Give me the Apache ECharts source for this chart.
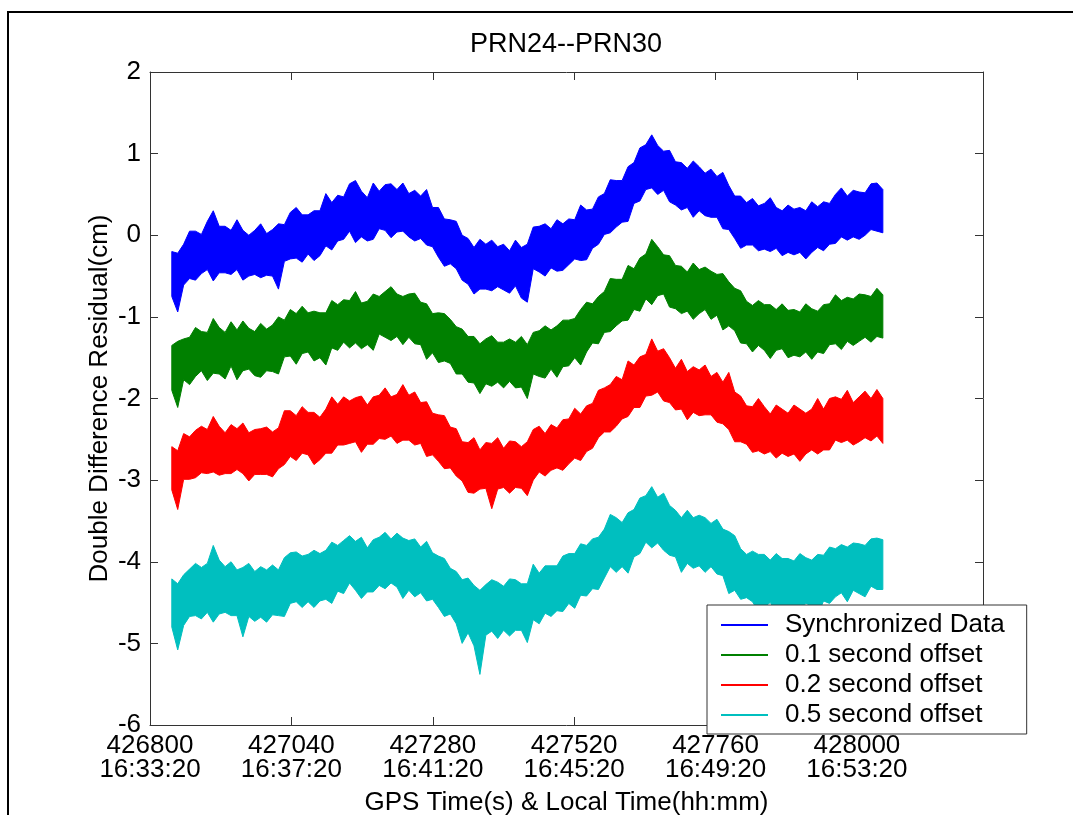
<!DOCTYPE html>
<html>
<head>
<meta charset="utf-8">
<title>PRN24--PRN30</title>
<script src="https://cdn.jsdelivr.net/npm/echarts@6/dist/echarts.min.js"></script>
<style>
  html, body { margin: 0; padding: 0; background: #fff; }
  #chart { width: 1073px; height: 815px; }
</style>
</head>
<body>
<div id="chart"></div>
<script>
// GPS time (s) of the first and last residual sample
const T_START = 426837;
const T_END = 428044;

// Bottom axis ticks: GPS seconds and the matching local clock time
const xTickValues = [426800, 427040, 427280, 427520, 427760, 428000];
const xTickTimes = ['16:33:20', '16:37:20', '16:41:20', '16:45:20', '16:49:20', '16:53:20'];

const seriesNames = ['Synchronized Data', '0.1 second offset', '0.2 second offset', '0.5 second offset'];
const seriesColors = ['#0000ff', '#008000', '#ff0000', '#00bfbf'];

// Upper and lower extent of each residual trace (cm), one pair per 10 s step
const syncHi = [-0.20,-0.22,-0.11,0.05,0.05,0.01,0.17,0.30,0.11,0.11,
  0.06,0.19,0.06,0.00,0.06,0.14,0.02,0.07,0.14,0.13,
  0.28,0.34,0.25,0.25,0.30,0.30,0.51,0.40,0.49,0.47,
  0.63,0.67,0.54,0.46,0.64,0.54,0.62,0.63,0.56,0.64,
  0.51,0.55,0.48,0.56,0.34,0.34,0.20,0.19,0.17,0.00,
  -0.04,-0.15,-0.05,-0.11,-0.06,-0.14,-0.11,-0.19,-0.06,-0.15,
  -0.11,0.10,0.11,0.14,0.08,0.19,0.14,0.20,0.19,0.37,
  0.31,0.32,0.47,0.51,0.68,0.67,0.67,0.84,0.89,1.07,
  1.11,1.23,1.10,1.03,1.04,0.90,0.89,0.82,0.91,0.84,
  0.76,0.81,0.72,0.77,0.61,0.48,0.48,0.40,0.45,0.36,
  0.39,0.46,0.34,0.30,0.37,0.32,0.34,0.30,0.41,0.35,
  0.41,0.39,0.50,0.58,0.48,0.55,0.53,0.52,0.63,0.64,
  0.56];
const syncLo = [-0.75,-0.94,-0.61,-0.53,-0.55,-0.47,-0.42,-0.56,-0.46,-0.46,
  -0.48,-0.42,-0.55,-0.50,-0.48,-0.52,-0.49,-0.50,-0.66,-0.32,
  -0.29,-0.28,-0.33,-0.23,-0.31,-0.25,-0.13,-0.18,-0.07,-0.05,
  0.05,-0.09,-0.02,-0.07,-0.05,0.08,0.06,-0.03,0.04,0.05,
  -0.02,-0.07,-0.04,-0.12,-0.14,-0.27,-0.38,-0.35,-0.41,-0.55,
  -0.60,-0.72,-0.66,-0.66,-0.68,-0.63,-0.67,-0.71,-0.62,-0.77,
  -0.82,-0.41,-0.45,-0.50,-0.40,-0.44,-0.43,-0.36,-0.29,-0.31,
  -0.30,-0.16,-0.11,0.01,0.03,0.10,0.16,0.17,0.39,0.42,
  0.56,0.58,0.50,0.55,0.41,0.37,0.31,0.34,0.22,0.30,
  0.24,0.22,0.22,0.08,0.07,-0.04,-0.16,-0.12,-0.12,-0.19,
  -0.17,-0.20,-0.16,-0.25,-0.21,-0.24,-0.21,-0.29,-0.21,-0.15,
  -0.19,-0.11,-0.10,-0.02,-0.06,-0.02,-0.05,0.00,0.07,0.05,
  0.03];

const off1Hi = [-1.35,-1.30,-1.27,-1.25,-1.13,-1.18,-1.19,-1.02,-1.13,-1.19,
  -1.06,-1.16,-1.05,-1.14,-1.18,-1.08,-1.15,-1.10,-1.00,-1.04,
  -0.91,-0.96,-0.87,-0.95,-0.93,-0.95,-0.95,-0.80,-0.85,-0.79,
  -0.80,-0.69,-0.83,-0.81,-0.72,-0.75,-0.69,-0.63,-0.72,-0.75,
  -0.72,-0.71,-0.82,-0.84,-0.96,-0.95,-0.96,-1.03,-1.12,-1.15,
  -1.24,-1.24,-1.33,-1.27,-1.23,-1.31,-1.31,-1.27,-1.31,-1.24,
  -1.34,-1.19,-1.17,-1.11,-1.16,-1.11,-1.04,-1.04,-1.02,-0.91,
  -0.82,-0.84,-0.75,-0.69,-0.53,-0.54,-0.54,-0.37,-0.41,-0.28,
  -0.23,-0.05,-0.14,-0.24,-0.25,-0.37,-0.38,-0.45,-0.34,-0.42,
  -0.39,-0.44,-0.48,-0.47,-0.57,-0.65,-0.68,-0.81,-0.86,-0.80,
  -0.85,-0.85,-0.91,-0.84,-0.92,-0.91,-0.94,-0.84,-0.90,-0.93,
  -0.85,-0.84,-0.73,-0.80,-0.76,-0.78,-0.72,-0.73,-0.75,-0.65,
  -0.73];
const off1Lo = [-1.90,-2.11,-1.77,-1.83,-1.73,-1.66,-1.78,-1.69,-1.70,-1.76,
  -1.60,-1.77,-1.66,-1.64,-1.72,-1.74,-1.66,-1.67,-1.70,-1.49,
  -1.48,-1.58,-1.45,-1.43,-1.54,-1.50,-1.59,-1.38,-1.41,-1.31,
  -1.38,-1.32,-1.39,-1.34,-1.41,-1.21,-1.25,-1.29,-1.24,-1.34,
  -1.25,-1.33,-1.34,-1.52,-1.44,-1.56,-1.54,-1.57,-1.70,-1.70,
  -1.80,-1.81,-1.94,-1.82,-1.85,-1.80,-1.87,-1.79,-1.87,-1.86,
  -2.00,-1.70,-1.73,-1.75,-1.64,-1.74,-1.61,-1.60,-1.50,-1.59,
  -1.43,-1.32,-1.33,-1.19,-1.18,-1.11,-1.05,-1.04,-0.91,-0.93,
  -0.78,-0.85,-0.74,-0.72,-0.88,-0.90,-0.96,-0.93,-1.03,-0.96,
  -0.91,-1.03,-0.98,-1.16,-1.11,-1.17,-1.32,-1.33,-1.43,-1.35,
  -1.41,-1.51,-1.41,-1.39,-1.50,-1.47,-1.49,-1.43,-1.52,-1.43,
  -1.45,-1.34,-1.33,-1.40,-1.30,-1.35,-1.30,-1.25,-1.31,-1.24,
  -1.26];

const off2Hi = [-2.59,-2.64,-2.43,-2.47,-2.39,-2.34,-2.38,-2.22,-2.34,-2.42,
  -2.32,-2.37,-2.30,-2.42,-2.38,-2.37,-2.35,-2.41,-2.36,-2.15,
  -2.15,-2.21,-2.10,-2.17,-2.17,-2.23,-2.13,-1.98,-2.07,-1.98,
  -2.03,-1.99,-1.97,-2.08,-1.98,-1.96,-1.87,-1.98,-1.95,-1.83,
  -1.96,-1.92,-2.05,-2.04,-2.18,-2.20,-2.21,-2.35,-2.37,-2.53,
  -2.54,-2.48,-2.63,-2.54,-2.55,-2.48,-2.61,-2.52,-2.53,-2.59,
  -2.53,-2.38,-2.34,-2.43,-2.32,-2.36,-2.26,-2.25,-2.12,-2.19,
  -2.09,-2.06,-1.90,-1.87,-1.83,-1.73,-1.77,-1.54,-1.59,-1.49,
  -1.46,-1.27,-1.42,-1.39,-1.50,-1.63,-1.52,-1.67,-1.61,-1.65,
  -1.59,-1.73,-1.68,-1.80,-1.68,-1.92,-1.97,-2.09,-2.10,-2.00,
  -2.10,-2.19,-2.08,-2.13,-2.18,-2.08,-2.13,-2.18,-2.13,-2.00,
  -2.13,-2.00,-1.98,-2.01,-1.90,-2.05,-1.98,-1.91,-2.00,-1.89,
  -2.00];
const off2Lo = [-3.12,-3.36,-2.99,-2.99,-2.97,-2.91,-2.92,-2.90,-2.94,-2.92,
  -2.92,-2.87,-2.92,-3.01,-2.93,-2.93,-2.93,-2.96,-2.86,-2.81,
  -2.71,-2.76,-2.67,-2.69,-2.81,-2.75,-2.67,-2.67,-2.57,-2.57,
  -2.55,-2.53,-2.66,-2.56,-2.56,-2.49,-2.50,-2.46,-2.55,-2.51,
  -2.51,-2.57,-2.55,-2.71,-2.69,-2.77,-2.86,-2.85,-2.95,-3.01,
  -3.15,-3.16,-3.11,-3.10,-3.35,-3.11,-3.09,-3.16,-3.09,-3.10,
  -3.19,-3.00,-2.90,-2.95,-2.88,-2.85,-2.88,-2.80,-2.73,-2.76,
  -2.65,-2.61,-2.48,-2.41,-2.41,-2.34,-2.25,-2.22,-2.11,-2.11,
  -1.97,-1.96,-1.92,-2.03,-2.05,-2.14,-2.13,-2.26,-2.17,-2.21,
  -2.20,-2.20,-2.29,-2.31,-2.38,-2.53,-2.53,-2.56,-2.66,-2.64,
  -2.68,-2.65,-2.73,-2.67,-2.71,-2.68,-2.77,-2.68,-2.63,-2.68,
  -2.63,-2.63,-2.51,-2.54,-2.51,-2.57,-2.53,-2.48,-2.52,-2.46,
  -2.55];

const off5Hi = [-4.21,-4.27,-4.16,-4.09,-4.02,-4.07,-4.02,-3.80,-3.98,-4.06,
  -4.00,-4.10,-4.07,-4.02,-4.12,-4.06,-4.10,-4.04,-4.10,-3.95,
  -3.89,-3.88,-3.93,-3.91,-3.86,-3.90,-3.86,-3.76,-3.80,-3.74,
  -3.68,-3.75,-3.70,-3.83,-3.73,-3.70,-3.64,-3.72,-3.65,-3.71,
  -3.74,-3.72,-3.82,-3.75,-3.89,-3.93,-3.96,-4.08,-4.12,-4.22,
  -4.20,-4.29,-4.35,-4.28,-4.22,-4.25,-4.30,-4.21,-4.22,-4.27,
  -4.27,-4.03,-4.14,-4.05,-4.05,-4.05,-3.93,-3.90,-3.90,-3.78,
  -3.80,-3.72,-3.70,-3.60,-3.42,-3.46,-3.52,-3.40,-3.36,-3.22,
  -3.19,-3.08,-3.21,-3.16,-3.31,-3.37,-3.46,-3.37,-3.46,-3.43,
  -3.46,-3.53,-3.48,-3.60,-3.63,-3.68,-3.84,-3.91,-3.87,-3.91,
  -3.91,-3.98,-3.90,-3.96,-3.96,-3.99,-3.90,-3.95,-3.98,-3.91,
  -3.92,-3.82,-3.84,-3.79,-3.82,-3.77,-3.78,-3.80,-3.72,-3.71,
  -3.73];
const off5Lo = [-4.80,-5.08,-4.78,-4.67,-4.66,-4.70,-4.62,-4.74,-4.64,-4.62,
  -4.66,-4.66,-4.92,-4.67,-4.73,-4.68,-4.74,-4.65,-4.66,-4.67,
  -4.51,-4.49,-4.56,-4.49,-4.56,-4.48,-4.46,-4.51,-4.36,-4.39,
  -4.26,-4.35,-4.45,-4.37,-4.37,-4.29,-4.33,-4.26,-4.31,-4.45,
  -4.35,-4.43,-4.38,-4.48,-4.46,-4.56,-4.67,-4.64,-4.76,-5.00,
  -4.87,-5.03,-5.38,-4.90,-4.85,-4.94,-4.84,-4.91,-4.84,-4.84,
  -4.99,-4.71,-4.76,-4.63,-4.67,-4.60,-4.61,-4.51,-4.57,-4.41,
  -4.42,-4.33,-4.34,-4.20,-4.06,-4.13,-4.06,-4.14,-3.94,-3.90,
  -3.76,-3.83,-3.77,-3.86,-3.92,-3.94,-4.13,-4.02,-4.08,-4.05,
  -4.13,-4.06,-4.15,-4.17,-4.39,-4.35,-4.46,-4.44,-4.49,-4.61,
  -4.55,-4.50,-4.61,-4.56,-4.55,-4.65,-4.60,-4.51,-4.54,-4.65,
  -4.48,-4.51,-4.43,-4.38,-4.49,-4.35,-4.39,-4.43,-4.30,-4.34,
  -4.34];

const FONT = '"Liberation Sans", Arial, Helvetica, sans-serif';
const sampleCount = syncHi.length;
const times = [];
for (let i = 0; i < sampleCount; i++) {
  times.push(T_START + (T_END - T_START) * i / (sampleCount - 1));
}

// Each trace is drawn as a filled band between its upper and lower extent
function bandSeries(name, color, hi, lo) {
  return {
    type: 'custom',
    name: name,
    coordinateSystem: 'cartesian2d',
    xAxisIndex: 0,
    yAxisIndex: 0,
    silent: true,
    itemStyle: { color: color },
    data: [[times[0], hi[0]]],
    renderItem: function (params, api) {
      const pts = [];
      for (let i = 0; i < times.length; i++) pts.push(api.coord([times[i], hi[i]]));
      for (let i = times.length - 1; i >= 0; i--) pts.push(api.coord([times[i], lo[i]]));
      return {
        type: 'polygon',
        shape: { points: pts },
        style: { fill: color, stroke: color, lineWidth: 1 }
      };
    }
  };
}

const axisLineStyle = { color: '#333', width: 1 };
const tickStyle = { show: true, inside: true, length: 8, lineStyle: { color: '#333', width: 1 } };
const xBase = { type: 'value', min: 426800, max: 428214, interval: 240 };
const yBase = { type: 'value', min: -6, max: 2, interval: 1 };

const chart = echarts.init(document.getElementById('chart'), null, { renderer: 'canvas' });
chart.setOption({
  animation: false,
  backgroundColor: '#ffffff',
  textStyle: { fontFamily: FONT },
  title: {
    text: 'PRN24--PRN30',
    left: 566,
    top: 31,
    textAlign: 'center',
    padding: 0,
    textStyle: { fontFamily: FONT, fontSize: 27, fontWeight: 'normal', color: '#000' }
  },
  grid: {
    left: 150, top: 72, right: 90, bottom: 90,
    containLabel: false,
    outerBoundsMode: 'none'
  },
  xAxis: [
    Object.assign({}, xBase, {
      position: 'bottom',
      name: 'GPS Time(s) & Local Time(hh:mm)',
      nameLocation: 'middle',
      nameGap: 65,
      nameMoveOverlap: false,
      nameTextStyle: { fontFamily: FONT, fontSize: 26, color: '#000', lineHeight: 26 },
      axisLine: { show: true, onZero: false, lineStyle: axisLineStyle },
      axisTick: tickStyle,
      splitLine: { show: false },
      axisLabel: {
        margin: 9,
        fontFamily: FONT,
        fontSize: 26,
        lineHeight: 24,
        color: '#000',
        formatter: function (v) {
          const k = xTickValues.indexOf(Math.round(v));
          return k < 0 ? '' : xTickValues[k] + '\n' + xTickTimes[k];
        }
      }
    }),
    Object.assign({}, xBase, {
      position: 'top',
      axisLine: { show: true, onZero: false, lineStyle: axisLineStyle },
      axisTick: tickStyle,
      axisLabel: { show: false },
      splitLine: { show: false }
    })
  ],
  yAxis: [
    Object.assign({}, yBase, {
      position: 'left',
      name: 'Double Difference Residual(cm)',
      nameLocation: 'middle',
      nameGap: 37,
      nameMoveOverlap: false,
      nameTextStyle: { fontFamily: FONT, fontSize: 26, color: '#000' },
      axisLine: { show: true, onZero: false, lineStyle: axisLineStyle },
      axisTick: tickStyle,
      splitLine: { show: false },
      axisLabel: { margin: 9, fontFamily: FONT, fontSize: 26, color: '#000' }
    }),
    Object.assign({}, yBase, {
      position: 'right',
      axisLine: { show: true, onZero: false, lineStyle: axisLineStyle },
      axisTick: tickStyle,
      axisLabel: { show: false },
      splitLine: { show: false }
    })
  ],
  legend: {
    data: seriesNames,
    orient: 'vertical',
    left: 707,
    top: 605,
    padding: [7, 22, 6, 14],
    itemGap: 4,
    itemWidth: 59,
    itemHeight: 2,
    icon: 'path://M0,0H47V2H0Z M59,2',
    selectedMode: false,
    backgroundColor: '#ffffff',
    borderColor: '#333',
    borderWidth: 1,
    borderRadius: 0,
    textStyle: { fontFamily: FONT, fontSize: 26, color: '#000', lineHeight: 26 }
  },
  graphic: [{
    type: 'polyline',
    silent: true,
    z: 100,
    shape: { points: [[8, 830], [8, 12], [1090, 12]] },
    style: { stroke: '#000', lineWidth: 2, fill: null }
  }],
  series: [
    bandSeries(seriesNames[0], seriesColors[0], syncHi, syncLo),
    bandSeries(seriesNames[1], seriesColors[1], off1Hi, off1Lo),
    bandSeries(seriesNames[2], seriesColors[2], off2Hi, off2Lo),
    bandSeries(seriesNames[3], seriesColors[3], off5Hi, off5Lo)
  ]
});
</script>
</body>
</html>
